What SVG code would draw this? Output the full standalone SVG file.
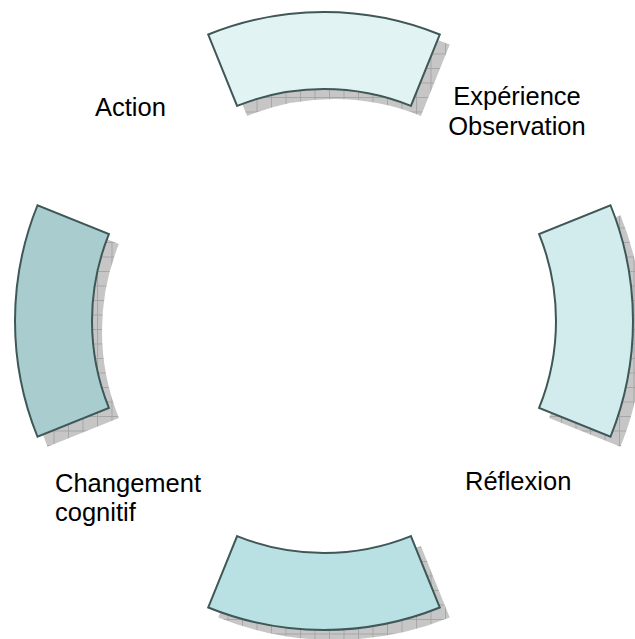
<svg xmlns="http://www.w3.org/2000/svg" width="635" height="639" viewBox="0 0 635 639">
<defs>
<pattern id="grid" patternUnits="userSpaceOnUse" width="14.5" height="14.5">
<rect width="14.5" height="14.5" fill="#c6c6c6"/>
<path d="M0 0.5H14.5M0.5 0V14.5" stroke="#a6a6a6" stroke-width="1" fill="none"/>
</pattern>
<style>
.shadow{fill:url(#grid);}
.seg{stroke:#3f5757;stroke-width:2;stroke-linejoin:miter;}
.lbl{font-family:"Liberation Sans",Arial,sans-serif;font-size:25.5px;fill:#000;}
</style>
</defs>
<rect width="635" height="639" fill="#fff"/>
<g id="top">
<path class="shadow" transform="translate(10,10)" d="M208.25 34.5 A309 309 0 0 1 439.75 34.5 L410.9 105.9 A232 232 0 0 0 237.1 105.9 Z"/>
<path class="seg" fill="#e2f3f3" d="M208.25 34.5 A309 309 0 0 1 439.75 34.5 L410.9 105.9 A232 232 0 0 0 237.1 105.9 Z"/>
</g>
<g id="right">
<path class="shadow" transform="translate(10,10)" d="M610.5 205.25 A309 309 0 0 1 610.5 436.75 L539.1 407.9 A232 232 0 0 0 539.1 234.1 Z"/>
<path class="seg" fill="#d2ebed" d="M610.5 205.25 A309 309 0 0 1 610.5 436.75 L539.1 407.9 A232 232 0 0 0 539.1 234.1 Z"/>
</g>
<g id="bottom">
<path class="shadow" transform="translate(10,10)" d="M439.75 607.5 A309 309 0 0 1 208.25 607.5 L237.1 536.1 A232 232 0 0 0 410.9 536.1 Z"/>
<path class="seg" fill="#b9e0e3" d="M439.75 607.5 A309 309 0 0 1 208.25 607.5 L237.1 536.1 A232 232 0 0 0 410.9 536.1 Z"/>
</g>
<g id="left">
<path class="shadow" transform="translate(10,10)" d="M37.5 436.75 A309 309 0 0 1 37.5 205.25 L108.9 234.1 A232 232 0 0 0 108.9 407.9 Z"/>
<path class="seg" fill="#a9cdcf" d="M37.5 436.75 A309 309 0 0 1 37.5 205.25 L108.9 234.1 A232 232 0 0 0 108.9 407.9 Z"/>
</g>
<g id="connectors"/>
<g id="labels">
<text class="lbl" x="95" y="116">Action</text>
<text class="lbl" x="517" y="105" text-anchor="middle">Expérience</text>
<text class="lbl" x="517" y="135" text-anchor="middle">Observation</text>
<text class="lbl" x="465" y="490">Réflexion</text>
<text class="lbl" x="55" y="492">Changement</text>
<text class="lbl" x="55" y="521">cognitif</text>
</g>
</svg>
